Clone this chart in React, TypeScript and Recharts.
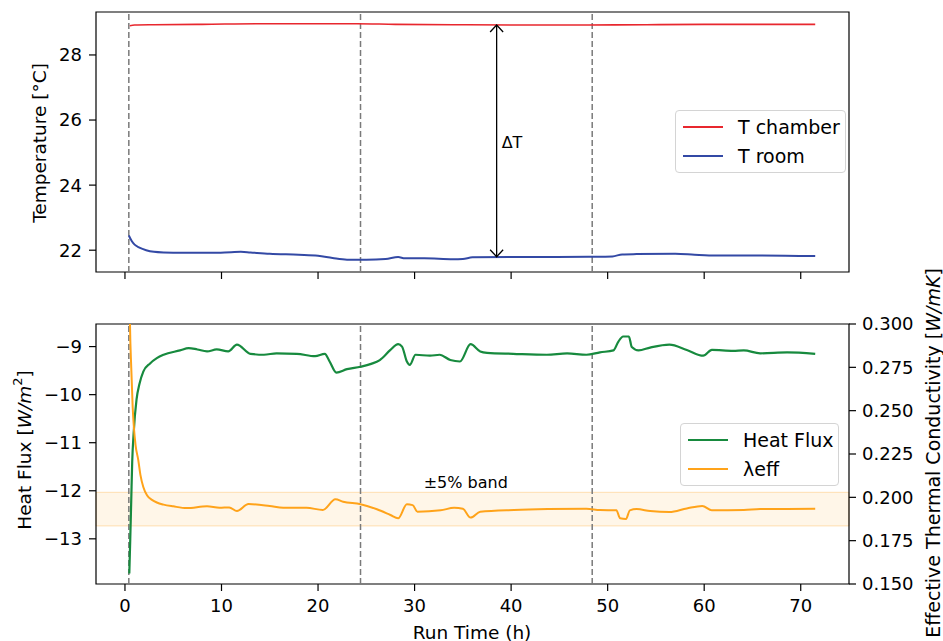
import {
  LineChart,
  Line,
  XAxis,
  YAxis,
  ReferenceLine,
  ReferenceArea,
  ReferenceDot,
  Legend,
} from "recharts";

// run time ticks (h)
const xTicks = [0, 10, 20, 30, 40, 50, 60, 70];
const tempTicks = [22, 24, 26, 28];
const fluxTicks = [-13, -12, -11, -10, -9];
const lambdaTicks = [0.15, 0.175, 0.2, 0.225, 0.25, 0.275, 0.3];
const phaseMarks = [0.4, 24.4, 48.4];

// [time h, value]
const tChamber: [number, number][] = [
  [0.5, 28.9], [1, 28.92], [3, 28.93], [8, 28.94], [14, 28.96], [20, 28.96],
  [24, 28.96], [28, 28.94], [34, 28.93], [40, 28.92], [48, 28.92], [54, 28.93],
  [60, 28.94], [66, 28.94], [71.5, 28.94],
];

const tRoom: [number, number][] = [
  [0.4, 22.45], [0.7, 22.28], [1.0, 22.17], [1.5, 22.08], [2.2, 22.0], [3, 21.95],
  [4, 21.93], [6, 21.92], [9, 21.92], [11, 21.94], [12, 21.95], [13, 21.93],
  [15, 21.89], [18, 21.86], [20, 21.83], [21.5, 21.76], [23, 21.71], [25, 21.71],
  [27, 21.73], [28.3, 21.79], [29, 21.75], [31, 21.75], [34, 21.72], [35, 21.73],
  [36, 21.78], [40, 21.79], [44, 21.79], [48, 21.8], [50.5, 21.81], [51.5, 21.87],
  [53, 21.88], [57, 21.89], [59, 21.86], [60.5, 21.84], [65, 21.84], [71.5, 21.82],
];

const heatFlux: [number, number][] = [
  [0.45, -13.72], [0.55, -13.0], [0.65, -12.2], [0.75, -11.4], [0.9, -10.8],
  [1.2, -10.1], [1.5, -9.78], [1.9, -9.52], [2.6, -9.35], [3.3, -9.24], [4.0, -9.17],
  [5.7, -9.08], [6.6, -9.03], [7.5, -9.06], [8.5, -9.1], [9.5, -9.06], [10.7, -9.1],
  [11.6, -8.96], [13, -9.15], [14.4, -9.17], [15.7, -9.14], [17.8, -9.15],
  [19.7, -9.2], [20.7, -9.15], [21.2, -9.31], [21.9, -9.54], [23, -9.47],
  [24.4, -9.42], [25.5, -9.36], [26.4, -9.28], [27.5, -9.07], [28.3, -8.95],
  [28.7, -9.0], [29.2, -9.31], [29.5, -9.38], [30.1, -9.17], [31.6, -9.19],
  [32.6, -9.17], [33.7, -9.28], [34.7, -9.31], [35.8, -8.95], [36.8, -9.1],
  [37.5, -9.13], [40.2, -9.15], [43.7, -9.17], [45.8, -9.14], [47.8, -9.17],
  [49.2, -9.12], [50.6, -9.08], [51.1, -8.9], [51.6, -8.79], [52.2, -8.79],
  [52.5, -9.01], [53.2, -9.08], [54.4, -9.02], [56.4, -8.96], [58.2, -9.07],
  [59.9, -9.19], [60.8, -9.07], [63, -9.09], [64.1, -9.08], [65.8, -9.14],
  [68.6, -9.12], [71.5, -9.15],
];

const lambdaEff: [number, number][] = [
  [0.45, 0.33], [0.52, 0.3], [0.65, 0.275], [0.8, 0.252], [0.93, 0.24], [1.1, 0.23],
  [1.38, 0.2215], [1.6, 0.213], [1.9, 0.206], [2.3, 0.201], [2.8, 0.1985],
  [3.3, 0.197], [4.0, 0.1958], [5, 0.1948], [6.4, 0.1938], [8.5, 0.1948],
  [9.8, 0.194], [10.8, 0.1942], [11.6, 0.1921], [12.8, 0.1961], [15, 0.195],
  [16.4, 0.194], [18.8, 0.194], [20.5, 0.1927], [21.8, 0.1989], [22.6, 0.1975],
  [24.4, 0.196], [26.1, 0.1931], [27.5, 0.1898], [28.3, 0.1879], [29.2, 0.196],
  [29.8, 0.1955], [30.3, 0.1917], [32.7, 0.1925], [34.1, 0.194], [35, 0.1934],
  [35.8, 0.1883], [36.8, 0.1917], [40.3, 0.1927], [43.8, 0.1932], [47.8, 0.1934],
  [49.2, 0.1927], [50.9, 0.1925], [51.3, 0.1879], [51.9, 0.1875], [52.3, 0.1925],
  [53, 0.1932], [54.4, 0.1921], [56.4, 0.1915], [58.2, 0.1936], [59.8, 0.195],
  [60.8, 0.1925], [64.1, 0.1927], [65.8, 0.1932], [71.5, 0.1934],
];

const band = [0.1835, 0.2029];

const toRows = (pts: [number, number][]) => pts.map(([t, v]) => ({ t, v }));

const RED = "#e8272e";
const BLUE = "#3349a5";
const GREEN = "#178a3e";
const ORANGE = "#ffa31a";
const DASH = "#7a7a7a";

const tickStyle = { fontSize: 18, fill: "#000" };
const minus = (v: number) => (v < 0 ? `\u2212${Math.abs(v)}` : `${v}`);

const DeltaArrow = (props: any) => {
  const { x1, y1, y2 } = props;
  const top = Math.min(y1, y2);
  const bot = Math.max(y1, y2);
  const w = 6.5;
  const h = 7;
  return (
    <g stroke="#000" strokeWidth={1.3} fill="none">
      <line x1={x1} y1={top} x2={x1} y2={bot} />
      <polyline points={`${x1 - w},${top + h} ${x1},${top} ${x1 + w},${top + h}`} />
      <polyline points={`${x1 - w},${bot - h} ${x1},${bot} ${x1 + w},${bot - h}`} />
    </g>
  );
};

const legendBox = (width: number, lineLeft: number, gap: number) => (props: any) => (
  <div
    style={{
      width,
      height: 63,
      boxSizing: "border-box",
      border: "1px solid #d4d4d4",
      borderRadius: 4,
      background: "rgba(255,255,255,0.85)",
      paddingTop: 2,
      fontSize: 19,
      color: "#000",
    }}
  >
    {(props.payload || []).map((e: any) => (
      <div key={e.value} style={{ display: "flex", alignItems: "center", height: 28.5 }}>
        <span
          style={{
            display: "inline-block",
            width: 40,
            height: 0,
            borderTop: `2px solid ${e.color}`,
            marginLeft: lineLeft,
            marginRight: gap,
          }}
        />
        <span>{e.value}</span>
      </div>
    ))}
  </div>
);

export default function App() {
  return (
    <div
      style={{
        position: "absolute",
        left: 0,
        top: 0,
        width: 943,
        height: 641,
        background: "#fff",
        fontFamily: "'DejaVu Sans', sans-serif",
        overflow: "hidden",
      }}
    >
      <div style={{ position: "absolute", left: 0, top: 0 }}>
        <LineChart width={943} height={300} margin={{ top: 12, right: 94, bottom: 0, left: 0 }}>
          <XAxis
            type="number"
            dataKey="t"
            domain={[-3, 75]}
            ticks={xTicks}
            allowDataOverflow
            height={28}
            axisLine={false}
            tickSize={7}
            tickLine={{ stroke: "#000", strokeWidth: 1.2 }}
            tickFormatter={() => ""}
          />
          <YAxis
            type="number"
            domain={[21.33, 29.32]}
            ticks={tempTicks}
            allowDataOverflow
            width={96}
            axisLine={false}
            tickSize={7}
            tickMargin={7}
            tickLine={{ stroke: "#000", strokeWidth: 1.2 }}
            tick={tickStyle}
          />
          {phaseMarks.map((m) => (
            <ReferenceLine key={m} x={m} stroke={DASH} strokeWidth={1.5} strokeDasharray="6 3" />
          ))}
          <Line data={toRows(tChamber)} dataKey="v" name="T chamber" stroke={RED} strokeWidth={1.6} dot={false} type="monotone" isAnimationActive={false} />
          <Line data={toRows(tRoom)} dataKey="v" name="T room" stroke={BLUE} strokeWidth={2} dot={false} type="monotone" isAnimationActive={false} />
          <ReferenceLine
            segment={[{ x: 38.5, y: 28.92 }, { x: 38.5, y: 21.8 }]}
            shape={DeltaArrow}
            ifOverflow="visible"
          />
          <ReferenceDot x={38.5} y={25.3} r={0} fill="none" stroke="none" label={{ value: "ΔT", position: "right", offset: 5, fontSize: 16, fill: "#000" }} />
          <ReferenceArea x1={-3} x2={75} y1={21.33} y2={29.32} fill="none" stroke="#000" strokeWidth={1.2} ifOverflow="visible" />
          <Legend
            layout="vertical"
            align="center"
            verticalAlign="middle"
            wrapperStyle={{ left: 675, top: 110, width: 171, height: 63 }}
            content={legendBox(171, 7, 15)}
          />
        </LineChart>
      </div>

      <div style={{ position: "absolute", left: 0, top: 300 }}>
        <LineChart width={943} height={341} margin={{ top: 24, right: 0, bottom: 0, left: 0 }}>
          <XAxis
            type="number"
            dataKey="t"
            domain={[-3, 75]}
            ticks={xTicks}
            allowDataOverflow
            height={57}
            axisLine={false}
            tickSize={7}
            tickMargin={8}
            tickLine={{ stroke: "#000", strokeWidth: 1.2 }}
            tick={tickStyle}
          />
          <YAxis
            yAxisId="left"
            type="number"
            domain={[-13.94, -8.53]}
            ticks={fluxTicks}
            allowDataOverflow
            width={96}
            axisLine={false}
            tickSize={7}
            tickMargin={7}
            tickLine={{ stroke: "#000", strokeWidth: 1.2 }}
            tick={tickStyle}
            tickFormatter={minus}
          />
          <YAxis
            yAxisId="right"
            orientation="right"
            type="number"
            domain={[0.15, 0.3]}
            ticks={lambdaTicks}
            allowDataOverflow
            width={94}
            axisLine={false}
            tickSize={7}
            tickMargin={6}
            tickLine={{ stroke: "#000", strokeWidth: 1.2 }}
            tick={tickStyle}
            tickFormatter={(v: number) => v.toFixed(3)}
          />
          <ReferenceArea
            yAxisId="right"
            x1={-3}
            x2={75}
            y1={band[0]}
            y2={band[1]}
            fill={ORANGE}
            fillOpacity={0.1}
            stroke={ORANGE}
            strokeOpacity={0.3}
            strokeWidth={1}
            ifOverflow="visible"
          />
          {phaseMarks.map((m) => (
            <ReferenceLine key={m} yAxisId="left" x={m} stroke={DASH} strokeWidth={1.5} strokeDasharray="6 3" />
          ))}
          <Line yAxisId="left" data={toRows(heatFlux)} dataKey="v" name="Heat Flux" stroke={GREEN} strokeWidth={2.2} dot={false} type="monotone" isAnimationActive={false} />
          <Line yAxisId="right" data={toRows(lambdaEff)} dataKey="v" name="λeff" stroke={ORANGE} strokeWidth={2} dot={false} type="monotone" isAnimationActive={false} />
          <ReferenceDot yAxisId="right" x={35.3} y={band[1]} r={0} fill="none" stroke="none" label={{ value: "±5% band", position: "top", offset: 4, fontSize: 16, fill: "#000" }} />
          <ReferenceArea yAxisId="left" x1={-3} x2={75} y1={-13.94} y2={-8.53} fill="none" stroke="#000" strokeWidth={1.2} ifOverflow="visible" />
          <Legend
            layout="vertical"
            align="center"
            verticalAlign="middle"
            wrapperStyle={{ left: 680, top: 123, width: 159, height: 63 }}
            content={legendBox(159, 7, 15)}
          />
        </LineChart>
      </div>

      <svg
        width={943}
        height={641}
        style={{ position: "absolute", left: 0, top: 0, pointerEvents: "none" }}
        fontFamily="'DejaVu Sans', sans-serif"
        fontSize={18.5}
      >
        <text x={39} y={143} transform="rotate(-90 39 143)" textAnchor="middle" dominantBaseline="central">
          Temperature [°C]
        </text>
        <text x={24} y={450} transform="rotate(-90 24 450)" textAnchor="middle" dominantBaseline="central">
          Heat Flux [<tspan fontStyle="italic">W/m</tspan>
          <tspan dy={-7} fontSize={13}>2</tspan>
          <tspan dy={7}>]</tspan>
        </text>
        <text x={933} y={453} transform="rotate(-90 933 453)" textAnchor="middle" dominantBaseline="central" fontSize={19}>
          Effective Thermal Conductivity [<tspan fontStyle="italic">W/mK</tspan>]
        </text>
        <text x={472} y={632} textAnchor="middle" dominantBaseline="central">
          Run Time (h)
        </text>
      </svg>
    </div>
  );
}
